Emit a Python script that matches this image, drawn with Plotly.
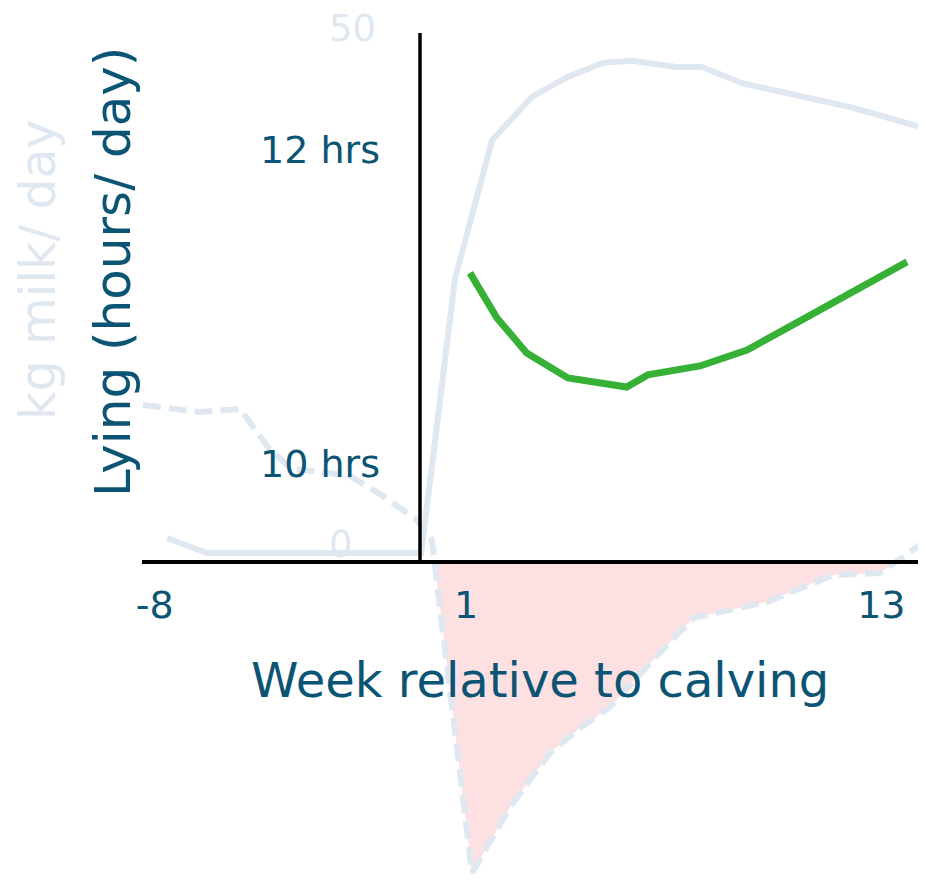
import numpy as np
import plotly.graph_objects as go

# ---- data (weeks relative to calving) ----
milk_weeks = [-7.64, -6.49, -3.8, -0.30, 0.68, 1.75, 2.90, 3.92, 4.96, 5.79, 7.09, 7.82, 9.00, 10.16, 12.10, 13.17, 14.21]
milk_kg = [1.45, 0.0, 0.0, 0.0, 26.6, 40.0, 44.2, 46.1, 47.5, 47.7, 47.1, 47.1, 45.5, 44.6, 43.2, 42.2, 41.2]

lying_weeks = [1.11, 1.89, 2.75, 3.94, 5.64, 6.25, 7.76, 9.12, 10.65, 12.24, 13.74]
lying_hours = [11.217, 10.930, 10.707, 10.548, 10.490, 10.567, 10.624, 10.726, 10.911, 11.102, 11.287]

balance_weeks = [-8.34, -6.69, -5.53, -4.73, -4.09, -2.36, -1.40, -0.42, 0.01, 1.17, 2.27, 3.42, 4.29, 5.16, 6.40, 7.56, 9.70, 11.60, 12.96, 14.11]
balance_vals = [15.7, 15.0, 15.3, 11.5, 9.4, 8.6, 6.6, 4.2, 2.2, -31.1, -24.5, -19.1, -16.6, -14.5, -9.8, -5.6, -4.0, -1.3, -1.1, 1.7]

week_ticks = [-8, 1, 13]
week_labels = ["-8", "1", "13"]
lying_ticks = [10, 12]
lying_labels = ["10 hrs", "12 hrs"]
milk_ticks = [0, 50]
milk_labels = ["0", "50"]

# negative part of balance (with exact zero crossings) for the shaded area
bx, by = [], []
for i in range(len(balance_weeks)):
    x0, y0 = balance_weeks[i], balance_vals[i]
    if i > 0:
        xp, yp = balance_weeks[i - 1], balance_vals[i - 1]
        if (yp < 0) != (y0 < 0):
            xc = xp + (0 - yp) * (x0 - xp) / (y0 - yp)
            bx.append(xc); by.append(0.0)
    if y0 < 0:
        bx.append(x0); by.append(y0)

TEAL = "#0b5474"
LIGHT = "#dfe8f0"
FONT = "DejaVu Sans"

# page has an 8px body margin; work in figure pixels = page pixels - 8
OFF = 8
W, H = 926 - OFF, 880 - OFF


def px(xpage):
    return (xpage - OFF) / W


def py(ypage):
    return (H - (ypage - OFF)) / H


fig = go.Figure()
fig.add_trace(go.Scatter(x=bx, y=by, yaxis="y3", mode="lines", line=dict(width=0, color="rgba(0,0,0,0)"),
                         fill="tozeroy", fillcolor="#fde0e1", hoverinfo="skip", showlegend=False))
fig.add_trace(go.Scatter(x=balance_weeks, y=balance_vals, yaxis="y3", mode="lines",
                         line=dict(color=LIGHT, width=6, dash="18px,8px"), showlegend=False))
fig.add_trace(go.Scatter(x=milk_weeks, y=milk_kg, yaxis="y2", mode="lines",
                         line=dict(color=LIGHT, width=6), showlegend=False))
fig.add_trace(go.Scatter(x=lying_weeks, y=lying_hours, yaxis="y", mode="lines",
                         line=dict(color="#36b035", width=7), showlegend=False))

fig.update_layout(
    width=W, height=H,
    margin=dict(l=0, r=0, t=0, b=0, autoexpand=False),
    paper_bgcolor="white", plot_bgcolor="white",
    font=dict(family=FONT, color=TEAL),
    xaxis=dict(range=[-12.24, 14.29], domain=[0, 1], anchor="free", position=py(562),
               tickvals=week_ticks, ticktext=week_labels, tickfont=dict(size=38, color=TEAL),
               ticks="outside", ticklen=9, tickcolor="rgba(0,0,0,0)", automargin=False,
               showgrid=False, zeroline=False, showline=False),
    yaxis=dict(range=[7.350, 12.904], anchor="free", position=px(380), side="left",
               tickvals=lying_ticks, ticktext=lying_labels, tickfont=dict(size=38, color=TEAL),
               ticks="", automargin=False, showgrid=False, zeroline=False, showline=False),
    yaxis2=dict(range=[-31.69, 52.81], overlaying="y", anchor="free", position=px(328), side="right",
                tickvals=milk_ticks, ticktext=milk_labels, tickfont=dict(size=37, color=LIGHT),
                ticks="", ticklabelshift=-9, ticklabeloverflow="allow", automargin=False,
                showgrid=False, zeroline=False, showline=False),
    yaxis3=dict(range=[-31.8, 55.4], overlaying="y", visible=False, automargin=False),
    shapes=[
        dict(type="line", xref="paper", yref="paper", x0=px(142), x1=1, y0=py(562), y1=py(562),
             line=dict(color="black", width=4), layer="above"),
        dict(type="line", xref="paper", yref="paper", x0=px(420), x1=px(420), y0=py(562), y1=py(33),
             line=dict(color="black", width=3.5), layer="above"),
    ],
    annotations=[
        dict(text="Week relative to calving", xref="paper", yref="paper", x=px(540), y=py(680),
             showarrow=False, font=dict(size=48, color=TEAL, family=FONT), xanchor="center", yanchor="middle"),
        dict(text="Lying (hours/ day)", xref="paper", yref="paper", x=px(113), y=py(272),
             showarrow=False, textangle=-90, font=dict(size=50, color=TEAL, family=FONT),
             xanchor="center", yanchor="middle"),
        dict(text="kg milk/ day", xref="paper", yref="paper", x=px(38), y=py(270),
             showarrow=False, textangle=-90, font=dict(size=49, color=LIGHT, family=FONT),
             xanchor="center", yanchor="middle"),
    ],
)

fig.write_html("out.html")
